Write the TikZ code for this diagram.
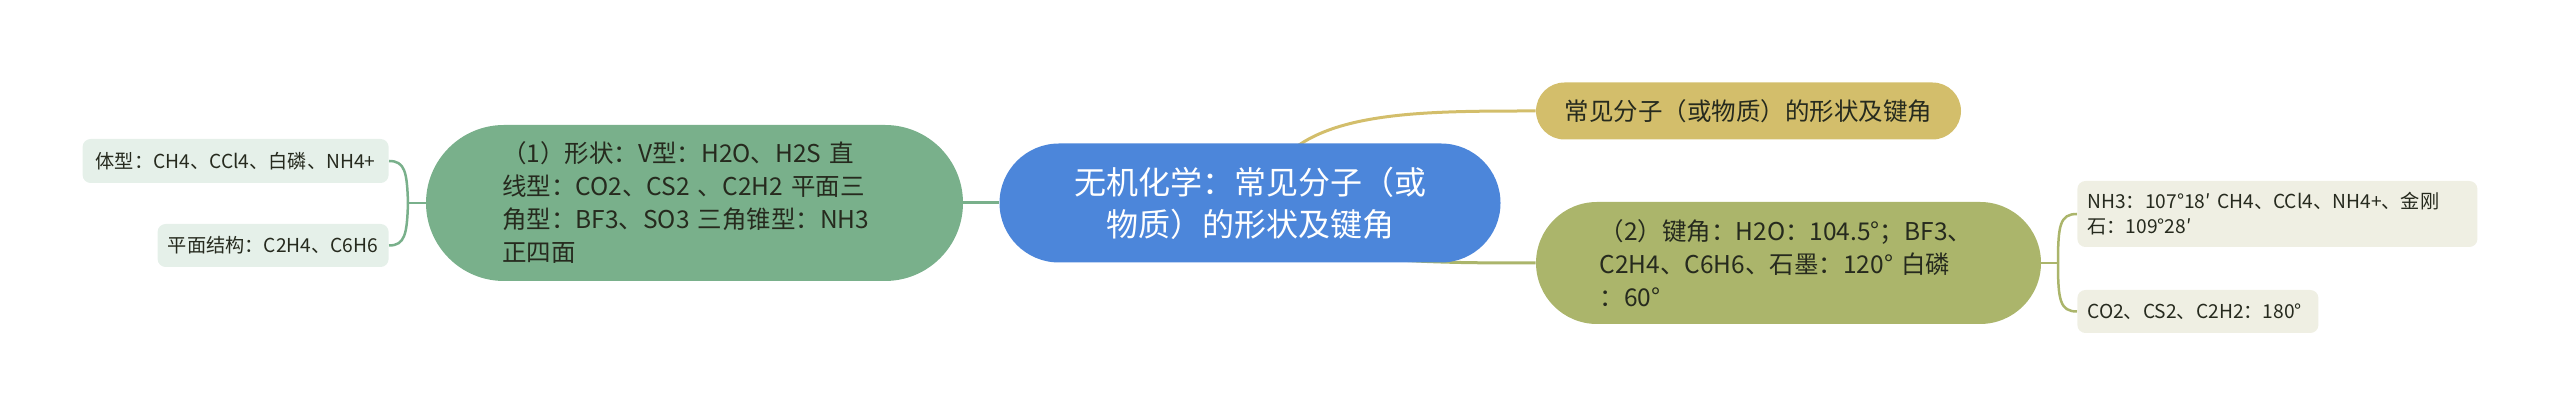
\documentclass[tikz,border=0pt]{standalone}
\usepackage{fontspec}
\setmainfont{Noto Sans CJK SC}
\usepackage{tikz}
\usetikzlibrary{shapes.misc, backgrounds, positioning}

\definecolor{rootblue}{HTML}{4C86DA}
\definecolor{topgold}{HTML}{D3BE6B}
\definecolor{subolive}{HTML}{ABB56B}
\definecolor{subgreen}{HTML}{79B08B}
\definecolor{leafgreen}{HTML}{E5F0E9}
\definecolor{leafolive}{HTML}{EFEFE3}
\definecolor{inkdark}{HTML}{262A1E}

\begin{document}
\begin{tikzpicture}[x=0.5pt,y=-0.5pt,
    bigbox/.style={rounded rectangle,inner sep=0pt,text=inkdark,font=\fontsize{12.25pt}{16.5pt}\selectfont},
    leafbox/.style={rectangle,rounded corners=4pt,inner xsep=5pt,inner ysep=0pt,text=inkdark,font=\fontsize{9.6pt}{12.5pt}\selectfont},
    link/.style={line width=1.5pt},
    brace/.style={line width=1.25pt}]
            \useasboundingbox (0,0) rectangle (2560,415);
            \begin{scope}

            \node[bigbox,fill=rootblue,text=white,align=center,minimum width=250.5pt,minimum height=59.5pt,
                  font=\fontsize{16pt}{21pt}\selectfont] (t_0) at (1250,203) {无机化学：常见分子（或\\物质）的形状及键角};

            \node[bigbox,fill=topgold,minimum width=212.5pt,minimum height=28.5pt] (t_1) at (1748.5,111) {常见分子（或物质）的形状及键角};
            \node[bigbox,fill=subolive,minimum width=252.5pt,minimum height=61pt,align=left,text width=189pt] (t_2) at (1788.5,263)
                  {（2）键角：H2O：104.5°；BF3、\\C2H4、C6H6、石墨：120° 白磷\\：60°};
            \node[bigbox,fill=subgreen,minimum width=268.5pt,minimum height=78pt,align=left,text width=192.5pt] (t_3) at (694.5,203)
                  {（1）形状：V型：H2O、H2S 直\\线型：CO2、CS2 、C2H2 平面三\\角型：BF3、SO3 三角锥型：NH3\\正四面};

            \node[leafbox,fill=leafgreen,anchor=east,minimum width=153pt,minimum height=22pt] (l_1) at (389,161) {体型：CH4、CCl4、白磷、NH4+};
            \node[leafbox,fill=leafgreen,anchor=east,minimum width=115.5pt,minimum height=21.5pt] (l_2) at (389,245.5) {平面结构：C2H4、C6H6};

            \node[leafbox,fill=leafolive,anchor=west,minimum width=200pt,minimum height=33pt,align=left,text width=190pt] (r_1) at (2077,214)
                  {NH3：107°18′ CH4、CCl4、NH4+、金刚\\石：109°28′};
            \node[leafbox,fill=leafolive,anchor=west,minimum width=120.5pt,minimum height=21.5pt,align=left,text width=110.5pt] (r_2) at (2077,311.5) {CO2、CS2、C2H2：180°};

            \coordinate (c_0) at (1260,203);
            \coordinate (j_1) at (408,203);
            \coordinate (j_2) at (2058,263);

            \begin{pgfonlayer}{background}
            \draw [link,topgold] (c_0) .. controls (1280,111) and (1400,111) .. (t_1.west);
            \draw [link,subolive] (c_0) .. controls (1280,262) and (1400,263) .. (t_2.west);
            \draw [link,subgreen] (t_3.east) -- (t_0.west);

            \draw [brace,subgreen] (t_3.west) -- (j_1);
            \draw [brace,subgreen] (j_1) .. controls (407,172) and (405,161) .. (l_1.east);
            \draw [brace,subgreen] (j_1) .. controls (407,234) and (405,245.5) .. (l_2.east);

            \draw [brace,subolive] (t_2.east) -- (j_2);
            \draw [brace,subolive] (j_2) .. controls (2058,225) and (2060,214) .. (r_1.west);
            \draw [brace,subolive] (j_2) .. controls (2058,300) and (2060,311.5) .. (r_2.west);
            \end{pgfonlayer}

            \end{scope}
        \end{tikzpicture}
\end{document}
